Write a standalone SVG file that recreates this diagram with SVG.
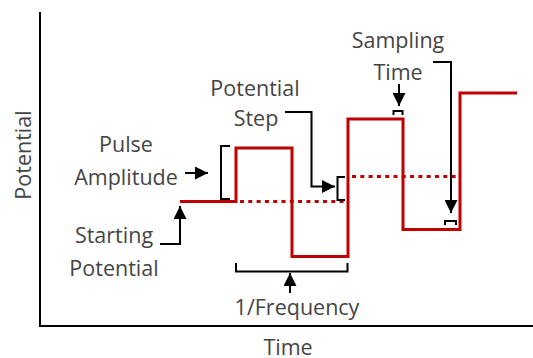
<svg xmlns="http://www.w3.org/2000/svg" width="533" height="358" viewBox="0 0 533 358">
<defs>
<style>
text{font-family:"Open Sans","Liberation Sans",sans-serif;font-size:21.5px;fill:#454545;text-anchor:middle}
.ax{stroke:#000;stroke-width:2;fill:none}
.w{stroke:#c00000;stroke-width:3;fill:none;stroke-linejoin:miter}
.d{stroke:#c00000;stroke-width:3;fill:none;stroke-dasharray:4 4.3}
.k{stroke:#000;stroke-width:2;fill:none}
</style>
<marker id="ah" viewBox="0 0 10 10" refX="10" refY="5" markerWidth="6.5" markerHeight="6.5" orient="auto" markerUnits="strokeWidth">
<path d="M0,0 L10,5 L0,10 Z" fill="#000"/>
</marker>
</defs>
<rect width="533" height="358" fill="#fff"/>
<g id="axes">
<path class="ax" d="M40,12 V326 H533"/>
<text x="0" y="0" transform="translate(31,155) rotate(-90)">Potential</text>
<text x="288" y="355">Time</text>
</g>
<g id="waveform">
<path class="w" d="M180,201.5 H236 V148 H292 V256.5 H348 V119 H403 V229.5 H460 V93 H517"/>
<path class="d" d="M240,201.5 H346"/>
<path class="d" d="M352,176.5 H458"/>
</g>
<g id="pulse-amplitude">
<text x="126" y="152">Pulse</text>
<text x="126" y="185">Amplitude</text>
<path class="k" d="M230,146 H221 V199 H230"/>
</g>
<g id="starting-potential">
<text x="114" y="243">Starting</text>
<text x="114" y="276">Potential</text>
</g>
<g id="potential-step">
<text x="255" y="96">Potential</text>
<text x="256" y="126">Step</text>
<path class="k" d="M345,177 H337.5 V200 H345"/>
</g>
<g id="sampling-time">
<text x="398" y="48">Sampling</text>
<text x="398" y="80">Time</text>
<path class="k" d="M393.5,115 V111 H402.5 V115"/>
<path class="k" d="M445,225 V221 H456 V225"/>
</g>
<g id="frequency">
<text x="297" y="315">1/Frequency</text>
<path class="k" d="M236,263 V271.5 H347.5 V263"/>
</g>
<g id="connectors">
<path class="k" d="M185,173 H208" marker-end="url(#ah)"/>
<path class="k" d="M160,244 H180 V206" marker-end="url(#ah)"/>
<path class="k" d="M285,112 H311.5 V186.5 H335" marker-end="url(#ah)"/>
<path class="k" d="M399,84 V106" marker-end="url(#ah)"/>
<path class="k" d="M433,62 H451 V213" marker-end="url(#ah)"/>
<path class="k" d="M290,293 V273" marker-end="url(#ah)"/>
</g>
</svg>
